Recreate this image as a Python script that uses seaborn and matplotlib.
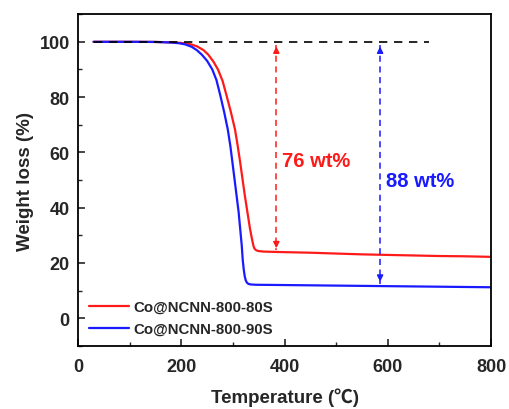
import numpy as np
import pandas as pd
import matplotlib
matplotlib.use("Agg")
import matplotlib.pyplot as plt
import seaborn as sns
from matplotlib.ticker import MultipleLocator

sns.set_theme(style="ticks")
plt.rcParams['font.family'] = ['Liberation Sans', 'Noto Sans CJK SC', 'DejaVu Sans']

# ---- data ----
temp_80 = [30, 100, 150, 180, 200, 217, 230, 243, 252, 262, 271, 280, 288, 296, 304, 309, 314,
           318.5, 323, 328, 333, 336, 338, 340, 342, 345, 349, 360, 400, 450, 500, 550, 600,
           650, 700, 750, 800]
wt_80 = [100, 100, 99.95, 99.8, 99.6, 99.15, 98.4, 97.0, 95.4, 92.9, 90.0, 85.8, 80.3, 74.6, 68.3,
         62.6, 56.4, 50.4, 44.4, 38.4, 32.4, 29.5, 27.6, 26.0, 25.1, 24.6, 24.3, 24.1, 23.9, 23.7,
         23.4, 23.1, 22.9, 22.7, 22.5, 22.4, 22.2]
temp_90 = [30, 100, 150, 180, 195, 207, 220, 230, 240, 250, 260, 268, 275, 283, 290, 295, 299, 303,
           307, 311, 314, 317, 319, 321, 323, 325, 327, 330, 335, 345, 400, 450, 500, 550, 600, 650,
           700, 750, 800]
wt_90 = [100, 100, 99.95, 99.75, 99.5, 99.1, 98.2, 97.0, 95.3, 93.1, 90.0, 86.2, 81.0, 74.6, 68.3,
         62.3, 56.4, 50.4, 44.4, 38.4, 32.4, 26.4, 21.0, 17.5, 15.0, 13.6, 12.9, 12.4, 12.2, 12.1,
         12.0, 11.9, 11.8, 11.7, 11.6, 11.5, 11.4, 11.3, 11.2]
labels = ["Co@NCNN-800-80S", "Co@NCNN-800-90S"]
colors = ["#ff1a1a", "#1a1aff"]
loss_texts = ["76 wt%", "88 wt%"]
arrow_x = [384, 585]
residue = [24.3, 12.2]

df = pd.DataFrame({
    "Temperature": temp_80 + temp_90,
    "Weight": wt_80 + wt_90,
    "Sample": [labels[0]] * len(temp_80) + [labels[1]] * len(temp_90),
})

fig = plt.figure(figsize=(5.1, 4.1), dpi=100)
ax = fig.add_axes([0.153, 0.154, 0.810, 0.809])

sns.lineplot(data=df, x="Temperature", y="Weight", hue="Sample", palette=colors,
             estimator=None, sort=False, lw=1.6, ax=ax)

# reference dashed line at 100%
ax.plot([30, 680], [100, 100], ls=(0, (5, 4)), color="black", lw=1.2)

for xa, res, c, t, ty in zip(arrow_x, residue, colors, loss_texts, [57, 50]):
    ax.plot([xa, xa], [99, res + 0.3], ls=(0, (4, 3)), color=c, lw=1.1)
    ax.annotate("", xy=(xa, 99.3), xytext=(xa, 95),
                arrowprops=dict(arrowstyle="-|>", color=c, lw=1.1, mutation_scale=9))
    ax.annotate("", xy=(xa, res), xytext=(xa, res + 4),
                arrowprops=dict(arrowstyle="-|>", color=c, lw=1.1, mutation_scale=9))
    ax.text(xa + 11, ty, t, color=c, fontsize=14.5, fontweight="bold", va="center", ha="left")

ax.set_xlim(0, 800)
ax.set_ylim(-10, 110)
ax.xaxis.set_major_locator(MultipleLocator(200))
ax.xaxis.set_minor_locator(MultipleLocator(100))
ax.yaxis.set_major_locator(MultipleLocator(20))
ax.yaxis.set_minor_locator(MultipleLocator(10))
ax.set_yticks([0, 20, 40, 60, 80, 100])
ax.tick_params(which="both", direction="in", top=False, right=False)
ax.tick_params(which="major", length=5, width=1.2, labelsize=13)
ax.tick_params(axis="y", which="major", pad=6)
ax.tick_params(axis="x", which="major", pad=9)
ax.tick_params(which="minor", length=3, width=1.0)
for lab in ax.get_xticklabels() + ax.get_yticklabels():
    lab.set_fontweight("bold")
for sp in ax.spines.values():
    sp.set_linewidth(1.3)
    sp.set_color("black")

ax.set_xlabel("Temperature (℃)", fontsize=13.5, fontweight="bold", labelpad=9)
ax.set_ylabel("Weight loss (%)", fontsize=13.5, fontweight="bold", labelpad=4)

leg = ax.legend(loc="lower left", bbox_to_anchor=(0.0, -0.002), frameon=False,
                handlelength=2.7, handletextpad=0.3, fontsize=10.8, labelspacing=0.55,
                borderaxespad=0.3)
for txt in leg.get_texts():
    txt.set_fontweight("bold")

fig.savefig("out.png", dpi=100)
